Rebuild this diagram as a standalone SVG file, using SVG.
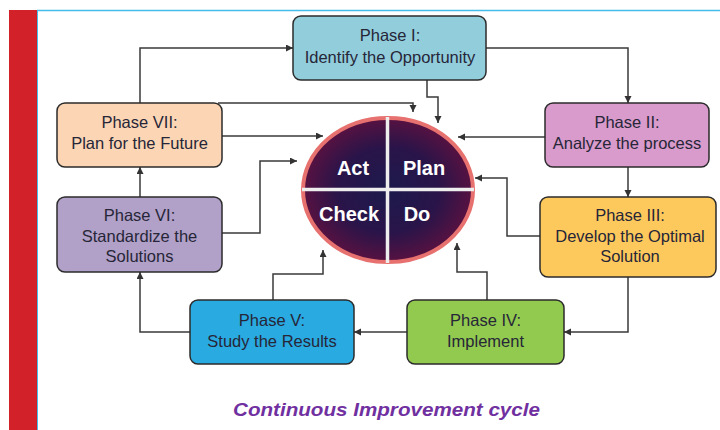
<svg xmlns="http://www.w3.org/2000/svg" width="720" height="430" viewBox="0 0 720 430">
  <defs>
    <marker id="arrow" markerUnits="userSpaceOnUse" markerWidth="8" markerHeight="8" refX="7" refY="3.5" orient="auto">
      <path d="M0,0 L7,3.5 L0,7 z" fill="#333"/>
    </marker>
    <radialGradient id="pdcaFill" cx="50%" cy="50%" r="55%">
      <stop offset="0" stop-color="#1c1a4c"/>
      <stop offset="0.55" stop-color="#2a1449"/>
      <stop offset="1" stop-color="#63113f"/>
    </radialGradient>
    <style>
      .box { stroke: #2b2b2b; stroke-width: 1.5; }
      .lbl { font-family: "Liberation Sans", Arial, sans-serif; font-size: 16.5px; fill: #262638; text-anchor: middle; }
      .pdca { font-family: "Liberation Sans", Arial, sans-serif; font-size: 20px; font-weight: bold; fill: #ffffff; text-anchor: middle; }
      .conn { fill: none; stroke: #3a3a3a; stroke-width: 1.5; marker-end: url(#arrow); }
    </style>
  </defs>

  <rect x="0" y="0" width="720" height="430" fill="#ffffff"/>
  <!-- page frame -->
  <rect x="9" y="10" width="28" height="420" fill="#d32129"/>
  <line x1="37" y1="10.5" x2="720" y2="10.5" stroke="#45bdea" stroke-width="1.5"/>
  <line x1="37.5" y1="10" x2="37.5" y2="430" stroke="#45bdea" stroke-width="1"/>

  <!-- connectors -->
  <g id="connectors">
    <path class="conn" d="M140,103 V48 H293"/>
    <path class="conn" d="M486,48 H628 V103"/>
    <path class="conn" d="M628,167 V197"/>
    <path class="conn" d="M628,277 V332 H564"/>
    <path class="conn" d="M407,332 H354"/>
    <path class="conn" d="M190,332 H140 V272"/>
    <path class="conn" d="M140,197 V167"/>
    <path class="conn" d="M427,80 V97 H438 V123"/>
    <path class="conn" d="M218,103 H413 V112" stroke-width="2"/>
    <path class="conn" d="M222,136 H323"/>
    <path class="conn" d="M222,233 H260 V161 H297"/>
    <path class="conn" d="M273,300 V274 H323 V250"/>
    <path class="conn" d="M487,300 V272 H457 V243"/>
    <path class="conn" d="M540,236 H507 V178 H475"/>
    <path class="conn" d="M545,137 H458"/>
  </g>

  <!-- PDCA wheel -->
  <g id="pdca">
    <ellipse cx="388" cy="190" rx="85" ry="72" fill="url(#pdcaFill)" stroke="#e6716f" stroke-width="4"/>
    <line x1="387.5" y1="117" x2="387.5" y2="263" stroke="#eeeeee" stroke-width="3.5"/>
    <line x1="302" y1="189.5" x2="474" y2="189.5" stroke="#eeeeee" stroke-width="3.5"/>
    <text class="pdca" x="353" y="175">Act</text>
    <text class="pdca" x="424" y="175">Plan</text>
    <text class="pdca" x="349" y="221">Check</text>
    <text class="pdca" x="417" y="221">Do</text>
  </g>

  <g id="phase1">
    <rect class="box" x="293" y="16" width="193" height="64" rx="8" fill="#92cddc"/>
    <text class="lbl" x="390" y="41">Phase I:</text>
    <text class="lbl" x="390" y="63">Identify the Opportunity</text>
  </g>
  <g id="phase2">
    <rect class="box" x="545" y="103" width="164" height="64" rx="8" fill="#d99bcb"/>
    <text class="lbl" x="627" y="128">Phase II:</text>
    <text class="lbl" x="627" y="149">Analyze the process</text>
  </g>
  <g id="phase3">
    <rect class="box" x="540" y="197" width="176" height="80" rx="8" fill="#fec95c"/>
    <text class="lbl" x="630" y="221">Phase III:</text>
    <text class="lbl" x="630" y="242">Develop the Optimal</text>
    <text class="lbl" x="630" y="262">Solution</text>
  </g>
  <g id="phase4">
    <rect class="box" x="407" y="300" width="157" height="64" rx="8" fill="#92c94f"/>
    <text class="lbl" x="485.5" y="326">Phase IV:</text>
    <text class="lbl" x="485.5" y="347">Implement</text>
  </g>
  <g id="phase5">
    <rect class="box" x="190" y="300" width="164" height="64" rx="8" fill="#29aae1"/>
    <text class="lbl" x="272" y="326">Phase V:</text>
    <text class="lbl" x="272" y="347">Study the Results</text>
  </g>
  <g id="phase6">
    <rect class="box" x="57" y="197" width="165" height="75" rx="8" fill="#b1a0c7"/>
    <text class="lbl" x="139.5" y="221">Phase VI:</text>
    <text class="lbl" x="139.5" y="242">Standardize the</text>
    <text class="lbl" x="139.5" y="262">Solutions</text>
  </g>
  <g id="phase7">
    <rect class="box" x="57" y="103" width="165" height="64" rx="8" fill="#fcd5b4"/>
    <text class="lbl" x="139.5" y="128">Phase VII:</text>
    <text class="lbl" x="139.5" y="149">Plan for the Future</text>
  </g>

  <text x="386.5" y="416" font-family="'Liberation Sans', Arial, sans-serif" font-size="18" font-weight="bold" font-style="italic" fill="#7030a0" text-anchor="middle" textLength="307" lengthAdjust="spacingAndGlyphs">Continuous Improvement cycle</text>
</svg>
